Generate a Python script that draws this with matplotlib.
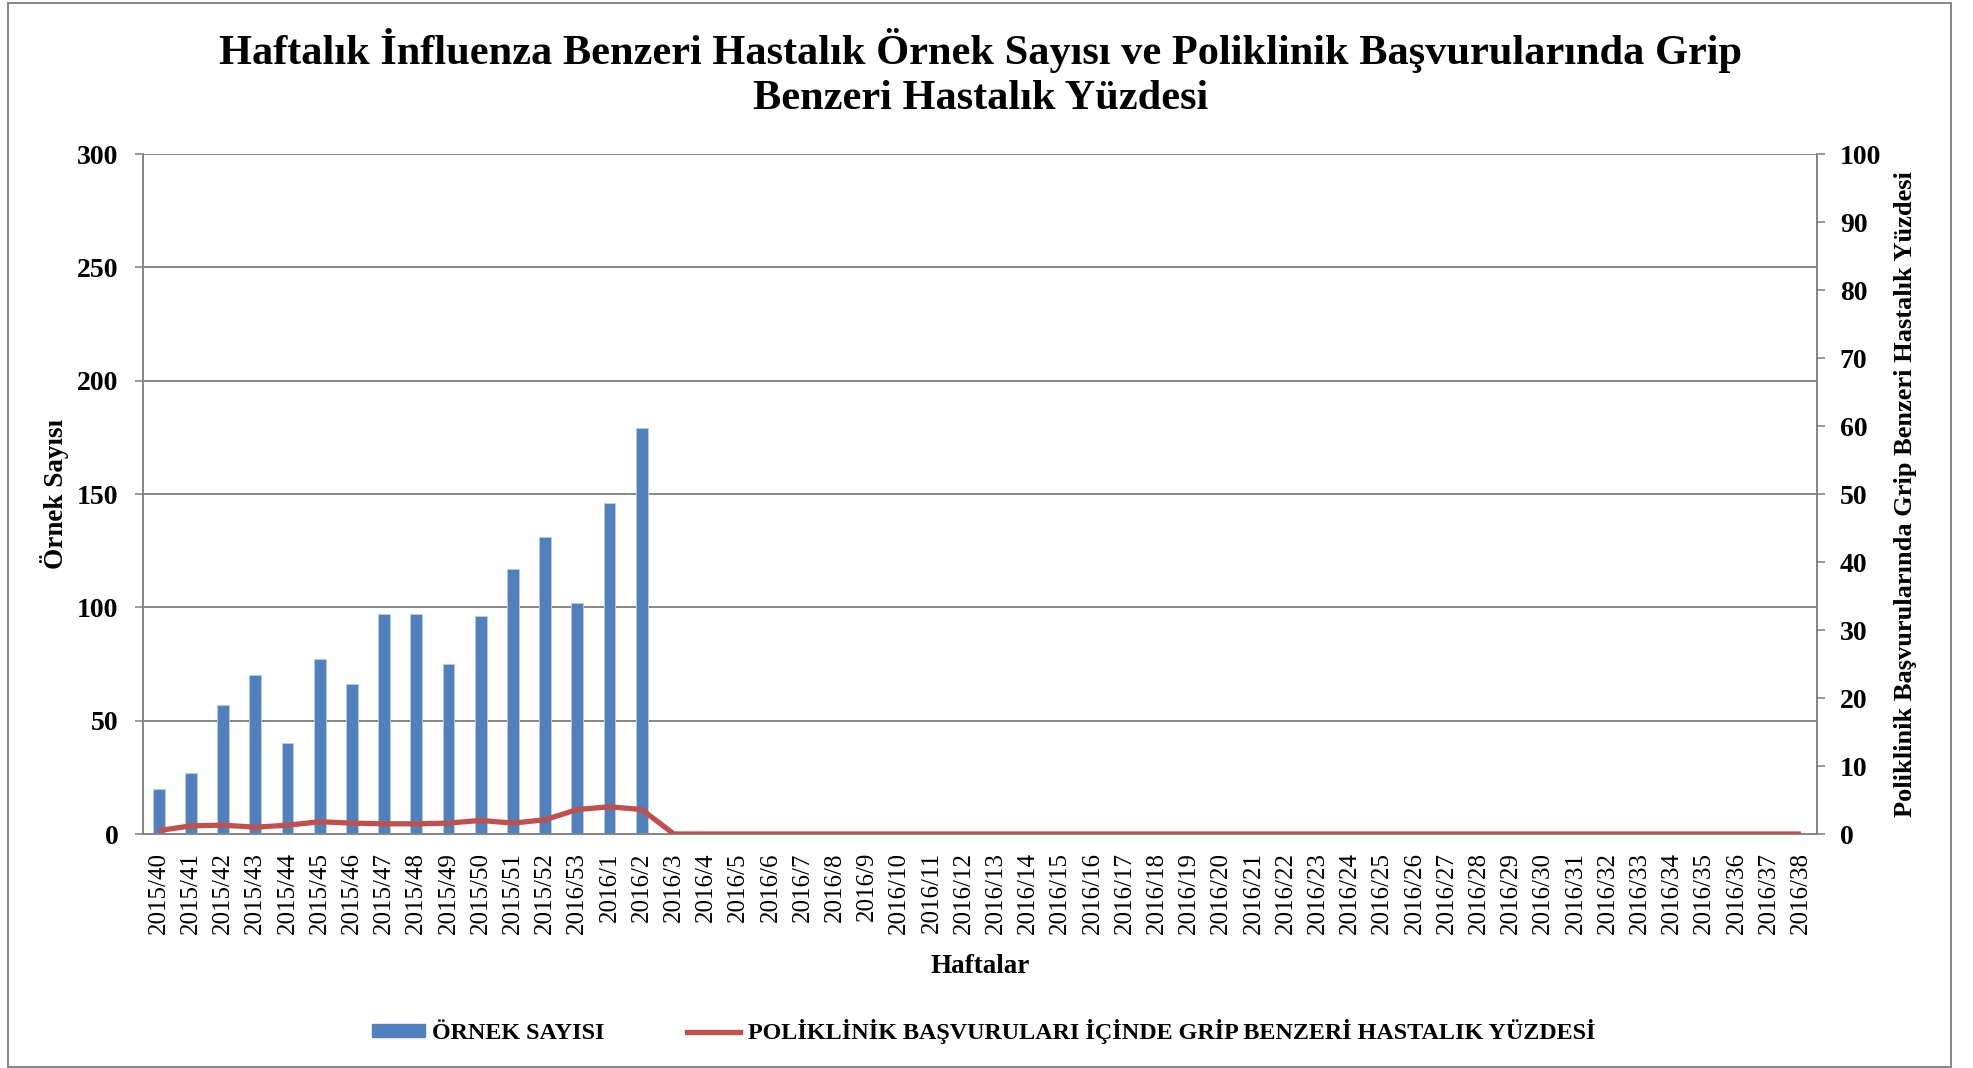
"""Weekly ILI sample count and ILI percentage chart."""

import matplotlib
matplotlib.use("Agg")
import numpy as np
from matplotlib import pyplot as plt
from matplotlib.lines import Line2D
from matplotlib.patches import Patch, Rectangle

# Week labels on the category axis
weeks = (
    [f"2015/{w}" for w in range(40, 53)]
    + ["2016/53"]
    + [f"2016/{w}" for w in range(1, 39)]
)

# Sample counts (only reported up to 2016/2)
sample_counts = [20, 27, 57, 70, 40, 77, 66, 97, 97, 75, 96, 117, 131, 102, 146, 179]

# Percentage of ILI among outpatient visits
ili_percent = [
    0.5, 1.2, 1.3, 1.0, 1.3, 1.8, 1.6, 1.5, 1.5, 1.6, 2.0, 1.6, 2.1, 3.6, 4.0, 3.6,
    0, 0, 0, 0, 0, 0, 0, 0, 0, 0, 0, 0, 0, 0, 0, 0, 0, 0,
    0, 0, 0, 0, 0, 0, 0, 0, 0, 0, 0, 0, 0, 0, 0, 0, 0, 0,
]

BLUE = "#4F81BD"
RED = "#C0504D"
GREY = "#868686"
SERIF = ["Liberation Serif", "DejaVu Serif"]

plt.rcParams["font.family"] = SERIF

fig = plt.figure(figsize=(19.73, 10.68), dpi=100)
ax = fig.add_axes([0.0723, 0.2191, 0.8486, 0.6367])
ax2 = ax.twinx()

x = np.arange(len(weeks))
ax.bar(x[: len(sample_counts)], sample_counts, width=0.37, color=BLUE,
       edgecolor="#B9CDE5", linewidth=0.6, zorder=2)
ax2.plot(x, ili_percent, color=RED, linewidth=3.8, solid_capstyle="butt", zorder=3)

ax.set_xlim(-0.5, len(weeks) - 0.5)
ax.set_ylim(0, 300)
ax.set_yticks(range(0, 301, 50))
ax2.set_ylim(0, 100)
ax2.set_yticks(range(0, 101, 10))

# Gridlines only for the left axis, drawn behind the bars
ax.set_axisbelow(True)
ax.yaxis.grid(True, color=GREY, linewidth=1.4)

ax.set_xticks(x)
ax.set_xticklabels(weeks, rotation=90, fontsize=18)
ax.tick_params(axis="x", length=0, pad=13)
ax.tick_params(axis="y", length=5.5, width=1.2, color=GREY, pad=12, labelsize=20)
ax2.tick_params(axis="y", length=5.5, width=1.2, color=GREY, pad=11, labelsize=20)
for lab in ax.get_yticklabels() + ax2.get_yticklabels():
    lab.set_fontweight("bold")

for axis in (ax, ax2):
    axis.spines["top"].set_visible(False)
    for side in ("left", "right", "bottom"):
        axis.spines[side].set_color(GREY)
        axis.spines[side].set_linewidth(1.4)

ax.set_ylabel("Örnek Sayısı", fontsize=19.5, fontweight="bold")
ax.yaxis.set_label_coords(-0.044, 0.5)
ax2.set_ylabel("Poliklinik Başvurularında Grip Benzeri Hastalık Yüzdesi",
               fontsize=19, fontweight="bold")
ax2.yaxis.set_label_coords(1.046, 0.5)
ax.set_xlabel("Haftalar", fontsize=19.5, fontweight="bold")
ax.xaxis.set_label_coords(0.5, -0.176)

fig.text(0.497, 0.932,
         "Haftalık İnfluenza Benzeri Hastalık Örnek Sayısı ve Poliklinik Başvurularında Grip\n"
         "Benzeri Hastalık Yüzdesi",
         ha="center", va="center", fontsize=30.5, fontweight="bold", linespacing=1.24)

handles = [
    Patch(facecolor=BLUE, edgecolor=BLUE),
    Line2D([0], [0], color=RED, linewidth=3.8),
]
fig.legend(handles, ["ÖRNEK SAYISI",
                     "POLİKLİNİK BAŞVURULARI İÇİNDE GRİP BENZERİ HASTALIK YÜZDESİ"],
           loc="center", bbox_to_anchor=(0.4985, 0.034), ncol=2, frameon=False,
           prop={"family": SERIF, "weight": "bold", "size": 17.4},
           handlelength=2.2, handleheight=0.45, handletextpad=0.3, columnspacing=3.4)

# Light grey frame around the whole chart
fig.patches.append(Rectangle((0.004, 0.001), 0.985, 0.996, transform=fig.transFigure,
                             fill=False, edgecolor=GREY, linewidth=1.4))

fig.savefig("out.png", dpi=100)
plt.close(fig)
